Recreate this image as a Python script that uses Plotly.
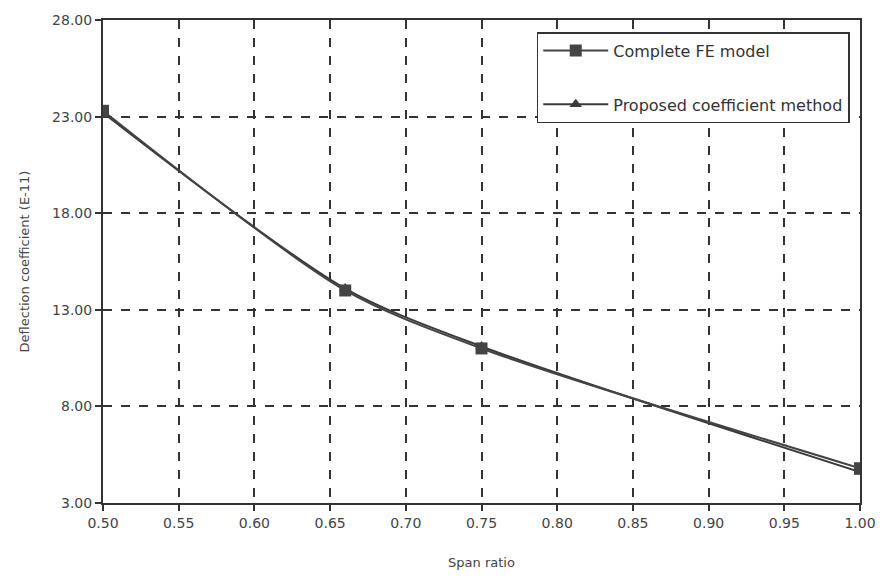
import plotly.graph_objects as go

span_ratio = [0.50, 0.66, 0.75, 1.00]
fe_model = [23.3, 14.0, 11.0, 4.8]
proposed = [23.2, 14.1, 11.1, 4.6]
y_ticks = [3, 8, 13, 18, 23, 28]
x_ticks = [0.50, 0.55, 0.60, 0.65, 0.70, 0.75, 0.80, 0.85, 0.90, 0.95, 1.00]

FONT = "DejaVu Sans, Liberation Sans, Arial"

fig = go.Figure()
fig.add_trace(go.Scatter(
    x=span_ratio, y=proposed, name="Proposed coefficient method",
    mode="lines+markers", line=dict(color="#3a3a3a", width=2, shape="spline", smoothing=0.8),
    marker=dict(symbol="triangle-up", size=11, color="#3a3a3a"),
    legendgroup="b", legendrank=2))
fig.add_trace(go.Scatter(
    x=span_ratio, y=fe_model, name="Complete FE model",
    mode="lines+markers", line=dict(color="#444444", width=2, shape="spline", smoothing=0.8),
    marker=dict(symbol="square", size=12, color="#444444"),
    legendgroup="a", legendrank=1))

axis_common = dict(
    showline=True, linecolor="#333", linewidth=2, mirror=True,
    showgrid=True, gridcolor="#333", griddash="dash", gridwidth=1.5,
    ticks="outside", ticklen=6, tickcolor="#333", tickwidth=1.5,
    zeroline=False,
    tickfont=dict(family=FONT, size=14, color="#444"),
)
fig.update_xaxes(range=[0.5, 1.0], tickvals=x_ticks,
                 ticktext=[f"{v:.2f}" for v in x_ticks],
                 title=dict(text="Span ratio", font=dict(family=FONT, size=13, color="#444"), standoff=28),
                 **axis_common)
fig.update_yaxes(range=[3, 28], tickvals=y_ticks,
                 ticktext=[f"{v:.2f}" for v in y_ticks],
                 title=dict(text="Deflection coefficient (E-11)", font=dict(family=FONT, size=13, color="#444"), standoff=20),
                 **axis_common)

fig.update_layout(
    width=888, height=580,
    margin=dict(l=103, r=21, t=15, b=77),
    paper_bgcolor="white", plot_bgcolor="white",
    font=dict(family=FONT, color="#444"),
    legend=dict(x=0.573, y=0.975, xanchor="left", yanchor="top",
                bgcolor="white", bordercolor="#333", borderwidth=1.5,
                font=dict(size=16, color="#333"),
                traceorder="grouped", tracegroupgap=30, itemwidth=65),
    showlegend=True,
)
fig.write_html("out.html")
